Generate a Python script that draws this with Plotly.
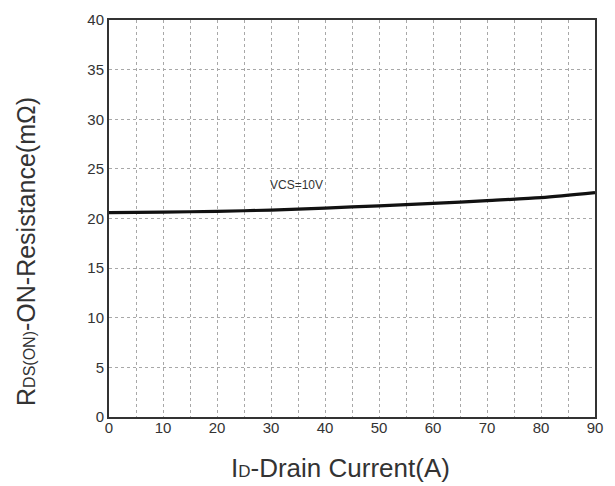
import plotly.graph_objects as go

current_a = [0, 10, 20, 30, 40, 50, 60, 70, 80, 90]
rds_on_mohm = [20.6, 20.65, 20.72, 20.85, 21.05, 21.28, 21.52, 21.8, 22.1, 22.6]
x_tick_vals = [0, 10, 20, 30, 40, 50, 60, 70, 80, 90]
y_tick_vals = [0, 5, 10, 15, 20, 25, 30, 35, 40]
curve_label = "VCS=10V"
x_title = "I<span style='font-size:17px'>D</span>-Drain Current(A)"
y_title = "R<span style='font-size:16px'>DS(ON)</span>-ON-Resistance(mΩ)"

FONT = "Liberation Sans, Arial"

fig = go.Figure()
fig.add_trace(go.Scatter(
    x=current_a, y=rds_on_mohm, mode="lines",
    line=dict(color="#111111", width=3.2, shape="spline", smoothing=0.8),
    showlegend=False, hoverinfo="skip"))

fig.add_annotation(x=34.8, y=23.4, text=curve_label, showarrow=False,
                   font=dict(family=FONT, size=12, color="#333333"))

fig.add_annotation(xref="paper", yref="paper", x=0.477, y=-0.128,
                   xanchor="center", yanchor="middle", text=x_title, showarrow=False,
                   font=dict(family=FONT, size=26, color="#333333"))
fig.add_annotation(xref="paper", yref="paper", x=-0.171, y=0.418,
                   xanchor="center", yanchor="middle", text=y_title, showarrow=False,
                   textangle=-90,
                   font=dict(family=FONT, size=25, color="#333333"))

grid_common = dict(gridcolor="#a8a8a8", griddash="dot", gridwidth=1)

fig.update_xaxes(
    range=[0, 90], tickvals=x_tick_vals, showgrid=True, **grid_common,
    minor=dict(dtick=5, tick0=0, showgrid=True, gridcolor="#a8a8a8", griddash="dot", gridwidth=1),
    showline=True, linecolor="#333333", linewidth=2, mirror=True, zeroline=False,
    ticks="", automargin=False, ticklabelstandoff=-4,
    tickfont=dict(family=FONT, size=15, color="#333333"),
)
fig.update_yaxes(
    range=[0, 40], tickvals=y_tick_vals, showgrid=True, **grid_common,
    showline=True, linecolor="#333333", linewidth=2, mirror=True, zeroline=False,
    ticks="", automargin=False,
    tickfont=dict(family=FONT, size=15, color="#333333"),
)
fig.update_layout(
    width=607, height=478,
    margin=dict(l=101, r=20, t=12, b=69),
    paper_bgcolor="white", plot_bgcolor="white",
)
fig.write_html("out.html")
